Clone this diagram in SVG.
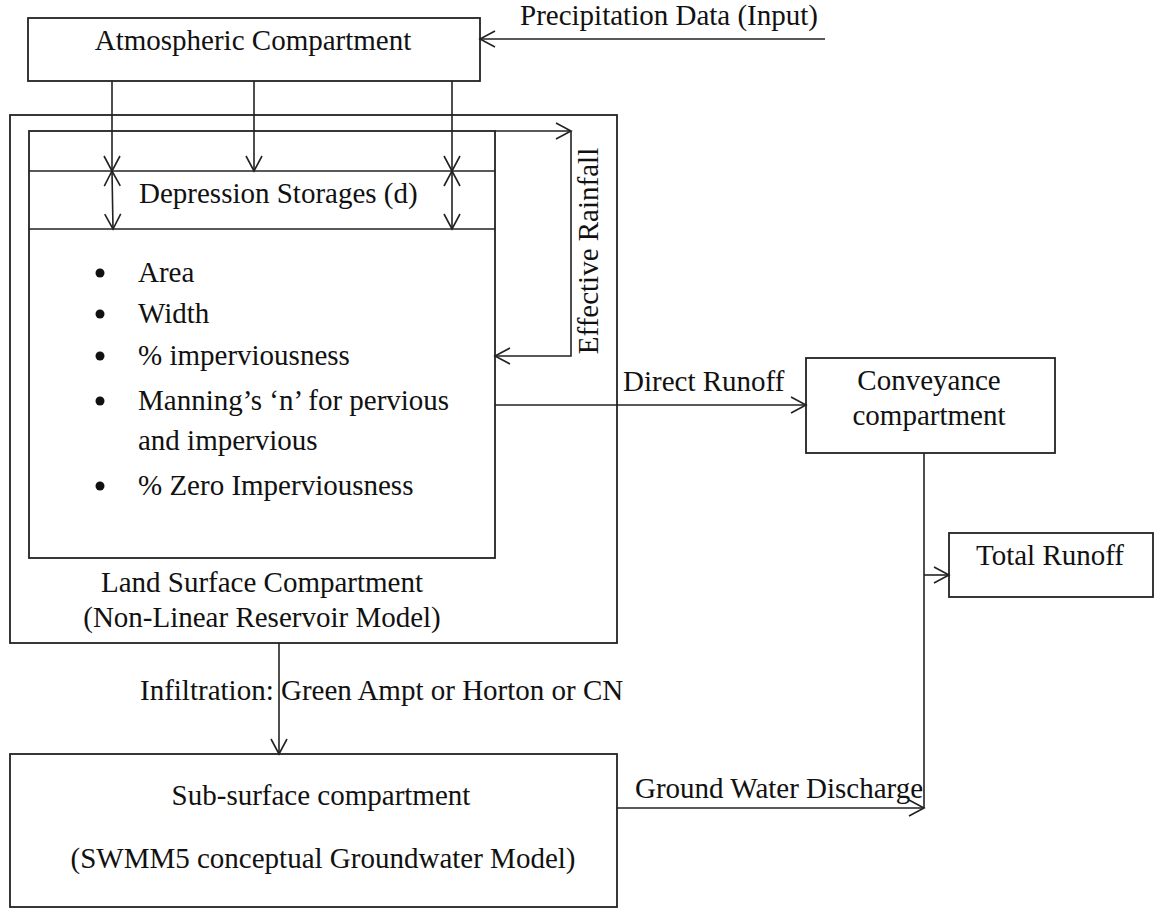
<svg xmlns="http://www.w3.org/2000/svg" width="1156" height="909" viewBox="0 0 1156 909">
<style>
.box{fill:#fff;stroke:#222;stroke-width:1.8}
.ln{fill:none;stroke:#222;stroke-width:1.6}
.t{font-family:"Liberation Serif","Times New Roman",serif;font-size:29px;fill:#111}
.c{text-anchor:middle}
</style>
<defs>
<marker id="ah" markerUnits="userSpaceOnUse" viewBox="-16 -10 18 20" refX="0" refY="0" markerWidth="18" markerHeight="20" orient="auto-start-reverse">
<path d="M-15,-8 L0,0 L-15,8" fill="none" stroke="#222" stroke-width="1.6"/>
</marker>
</defs>
<rect width="1156" height="909" fill="#fff"/>
<g id="atmospheric">
<rect class="box" x="28" y="18" width="452" height="63"/>
<text class="t c" x="253" y="50">Atmospheric Compartment</text>
</g>
<g id="land-surface">
<rect class="box" x="10" y="115" width="607" height="528"/>
<rect class="box" x="29" y="131" width="466" height="427"/>
<text class="t c" x="262" y="592">Land Surface Compartment</text>
<text class="t c" x="262" y="627">(Non-Linear Reservoir Model)</text>
</g>
<g id="depression-storage">
<line class="ln" x1="29" y1="171" x2="495" y2="171"/>
<line class="ln" x1="29" y1="229" x2="495" y2="229"/>
<text class="t" x="139" y="203">Depression Storages (d)</text>
</g>
<g id="parameters">
<circle cx="100" cy="273" r="4.5" fill="#111"/>
<circle cx="100" cy="314" r="4.5" fill="#111"/>
<circle cx="100" cy="356" r="4.5" fill="#111"/>
<circle cx="100" cy="401" r="4.5" fill="#111"/>
<circle cx="100" cy="486" r="4.5" fill="#111"/>
<text class="t" x="138" y="282">Area</text>
<text class="t" x="138" y="323">Width</text>
<text class="t" x="138" y="365">% imperviousness</text>
<text class="t" x="138" y="410">Manning’s ‘n’ for pervious</text>
<text class="t" x="138" y="450">and impervious</text>
<text class="t" x="138" y="495">% Zero Imperviousness</text>
</g>
<g id="conveyance">
<rect class="box" x="806" y="358" width="249" height="95"/>
<text class="t c" x="929" y="390">Conveyance</text>
<text class="t c" x="929" y="425">compartment</text>
</g>
<g id="total-runoff">
<rect class="box" x="949" y="533" width="204" height="64"/>
<text class="t c" x="1050" y="565">Total Runoff</text>
</g>
<g id="sub-surface">
<rect class="box" x="10" y="754" width="607" height="153"/>
<text class="t c" x="321" y="805">Sub-surface compartment</text>
<text class="t c" x="323" y="868">(SWMM5 conceptual Groundwater Model)</text>
</g>
<g id="connectors">
<line class="ln" x1="825" y1="39" x2="480" y2="39" marker-end="url(#ah)"/>
<text class="t" x="520" y="25">Precipitation Data (Input)</text>
<line class="ln" x1="112" y1="81" x2="112" y2="171" marker-end="url(#ah)"/>
<line class="ln" x1="254" y1="81" x2="254" y2="171" marker-end="url(#ah)"/>
<line class="ln" x1="452" y1="81" x2="452" y2="171" marker-end="url(#ah)"/>
<line class="ln" x1="112" y1="171" x2="113" y2="229" marker-start="url(#ah)" marker-end="url(#ah)"/>
<line class="ln" x1="452" y1="171" x2="452" y2="229" marker-start="url(#ah)" marker-end="url(#ah)"/>
<line class="ln" x1="495" y1="131" x2="571" y2="131" marker-end="url(#ah)"/>
<path class="ln" d="M571,131 V356 H495" marker-end="url(#ah)"/>
<text class="t c" transform="translate(598,251) rotate(-90)">Effective Rainfall</text>
<line class="ln" x1="495" y1="405" x2="806" y2="405" marker-end="url(#ah)"/>
<text class="t" x="623" y="391">Direct Runoff</text>
<line class="ln" x1="924" y1="453" x2="924" y2="808"/>
<line class="ln" x1="924" y1="575" x2="949" y2="575" marker-end="url(#ah)"/>
<line class="ln" x1="279" y1="643" x2="279" y2="754" marker-end="url(#ah)"/>
<text class="t" x="140" y="700">Infiltration: Green Ampt or Horton or CN</text>
<line class="ln" x1="617" y1="808" x2="924" y2="808" marker-end="url(#ah)"/>
<text class="t" x="635" y="798">Ground Water Discharge</text>
</g>
</svg>
